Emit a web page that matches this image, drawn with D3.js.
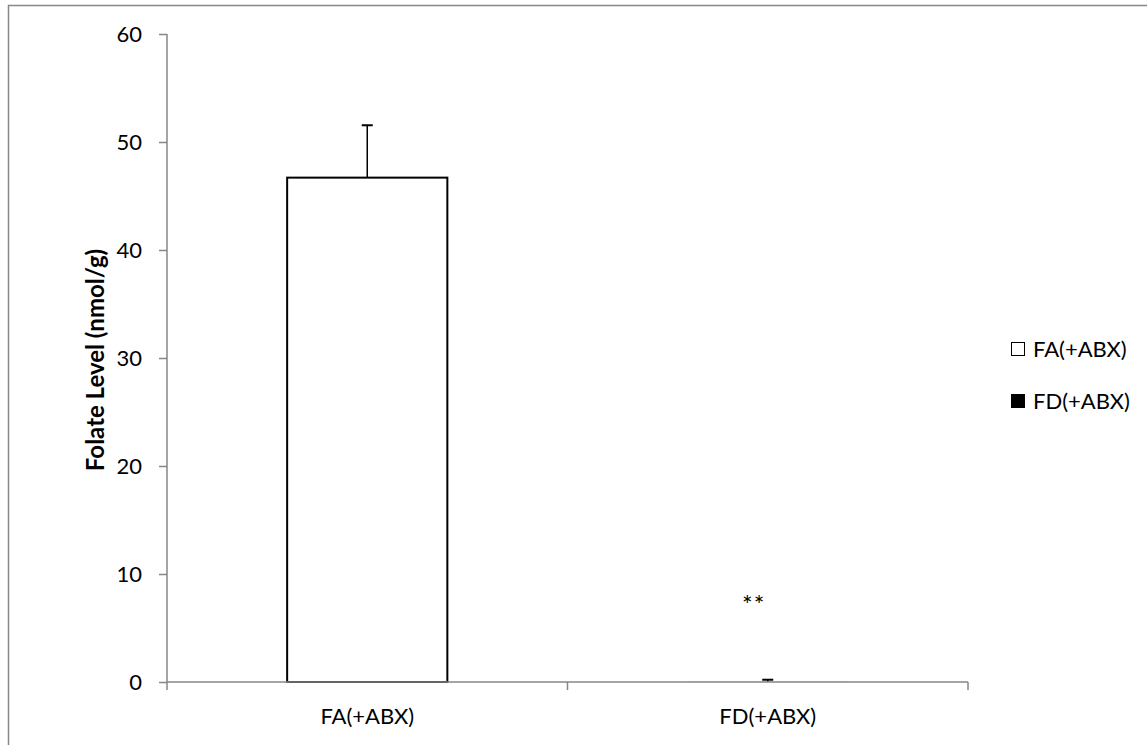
<!DOCTYPE html>
<html>
<head>
<meta charset="utf-8">
<script src="https://cdn.jsdelivr.net/npm/d3@7"></script>
<style>
  body { margin: 0; background: #fff; }
  text { font-family: Lato, "Open Sans", sans-serif; fill: #000; }
</style>
</head>
<body>
<div id="chart-area"></div>
<script>
// data
var categories = ["FA(+ABX)", "FD(+ABX)"];
var means = [46.7, 0.01];
var errors = [4.85, 0.2];
var barColors = ["#ffffff", "#000000"];
var yTicks = [0, 10, 20, 30, 40, 50, 60];
var sigLabels = ["", "**"];

var W = 1147, H = 745;
var margin = {left: 167, top: 34, right: 179, bottom: 63};
var width = W - margin.left - margin.right;
var height = H - margin.top - margin.bottom;

var svg = d3.select("#chart-area").append("svg")
  .attr("width", W)
  .attr("height", H);

// outer frame
svg.append("rect")
  .attr("x", 8.5).attr("y", 5.5)
  .attr("width", W + 10).attr("height", H + 10)
  .attr("fill", "none")
  .attr("stroke", "#878787")
  .attr("stroke-width", 1.5);

var g = svg.append("g")
  .attr("transform", "translate(" + margin.left + "," + margin.top + ")");

var x = d3.scaleBand()
  .domain(categories)
  .range([0, width]);

var y = d3.scaleLinear()
  .domain([0, 60])
  .range([height, 0]);

var barW = x.bandwidth() * 0.4;

// bars
g.selectAll("rect.bar")
  .data(categories)
  .enter().append("rect")
    .attr("class", "bar")
    .attr("x", d => x(d) + x.bandwidth() / 2 - barW / 2)
    .attr("y", (d, i) => y(means[i]))
    .attr("width", barW)
    .attr("height", (d, i) => y(0) - y(means[i]))
    .attr("fill", (d, i) => barColors[i])
    .attr("stroke", "#000")
    .attr("stroke-width", (d, i) => i === 0 ? 2 : 0);

// error bars (upper only)
var cap = 11;
categories.forEach((d, i) => {
  var cx = x(d) + x.bandwidth() / 2;
  g.append("line")
    .attr("x1", cx).attr("x2", cx)
    .attr("y1", y(means[i])).attr("y2", y(means[i] + errors[i]))
    .attr("stroke", "#000").attr("stroke-width", 1.5);
  g.append("line")
    .attr("x1", cx - cap / 2).attr("x2", cx + cap / 2)
    .attr("y1", y(means[i] + errors[i])).attr("y2", y(means[i] + errors[i]))
    .attr("stroke", "#000").attr("stroke-width", 2);
  if (sigLabels[i]) {
    g.append("text")
      .attr("x", cx - 14)
      .attr("y", y(6.3))
      .attr("text-anchor", "middle")
      .attr("font-size", "25px")
      .attr("letter-spacing", "1px")
      .text(sigLabels[i]);
  }
});

// y axis
var yAxis = g.append("g")
  .call(d3.axisLeft(y).tickValues(yTicks).tickSize(8).tickPadding(17));
yAxis.selectAll("text").attr("font-size", "22px").attr("font-family", "Lato, sans-serif");

// x axis
var xAxis = g.append("g")
  .attr("transform", "translate(0," + height + ")")
  .call(d3.axisBottom(x).tickSize(0).tickPadding(26));
xAxis.selectAll("text").attr("font-size", "22px").attr("font-family", "Lato, sans-serif");

// x tick marks at band boundaries
xAxis.selectAll("line.sep")
  .data([0, width / 2, width])
  .enter().append("line")
    .attr("class", "sep")
    .attr("x1", d => d).attr("x2", d => d)
    .attr("y1", 0).attr("y2", 8);

[yAxis, xAxis].forEach(a => {
  a.selectAll("path, line").attr("stroke", "#878787").attr("stroke-width", 1.5);
  a.select(".domain").attr("d", a === yAxis ? "M0," + height + "V0" : "M0,0H" + width);
});

// y label
svg.append("text")
  .attr("transform", "translate(104,360) rotate(-90)")
  .attr("text-anchor", "middle")
  .attr("font-size", "24px")
  .attr("font-weight", "bold")
  .text("Folate Level (nmol/g)");

// legend
var legend = svg.append("g").attr("transform", "translate(1011,0)");
categories.forEach((d, i) => {
  var ly = 349 + i * 52;
  legend.append("rect")
    .attr("x", 0.5).attr("y", ly - 6.5)
    .attr("width", 13).attr("height", 13)
    .attr("fill", barColors[i])
    .attr("stroke", "#000")
    .attr("stroke-width", 1);
  legend.append("text")
    .attr("x", 22)
    .attr("y", ly + 8)
    .attr("font-size", "22px")
    .text(d);
});
</script>
</body>
</html>
